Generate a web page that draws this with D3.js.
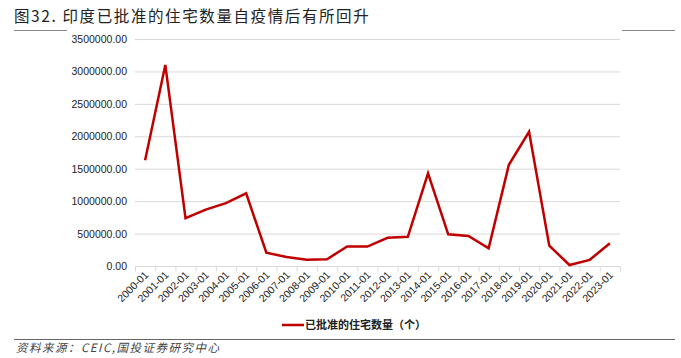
<!DOCTYPE html>
<html><head><meta charset="utf-8">
<script src="https://cdn.jsdelivr.net/npm/d3@7"></script>
<style>body{margin:0;background:#fff;}svg{display:block;}</style>
</head><body>
<script>
const categories = ["2000-01","2001-01","2002-01","2003-01","2004-01","2005-01","2006-01","2007-01","2008-01","2009-01","2010-01","2011-01","2012-01","2013-01","2014-01","2015-01","2016-01","2017-01","2018-01","2019-01","2020-01","2021-01","2022-01","2023-01"];
const approved = [1630000,3100000,736000,870000,970000,1120000,205000,140000,95000,105000,300000,300000,435000,450000,1430000,489000,463000,273000,1560000,2070000,313000,15000,95000,350000];
const yTicks = [0,500000,1000000,1500000,2000000,2500000,3000000,3500000];
const titleText = "图32. 印度已批准的住宅数量自疫情后有所回升";
const seriesName = "已批准的住宅数量（个）";
const sourceText = "资料来源：CEIC,国投证券研究中心";

const W = 681, H = 358;
const svg = d3.select("body").append("svg").attr("width", W).attr("height", H);
const font = "'Noto Sans CJK SC', 'Liberation Sans', sans-serif";

// title
svg.append("text").attr("x", 14).attr("y", 22).attr("font-family", font).attr("font-size", 15.5)
  .attr("letter-spacing", 1.6).attr("fill", "#222").text(titleText);
svg.append("line").attr("x1", 14).attr("x2", 67).attr("y1", 30.5).attr("y2", 30.5).attr("stroke", "#888").attr("stroke-width", 1.2);
svg.append("line").attr("x1", 622).attr("x2", 675).attr("y1", 30.5).attr("y2", 30.5).attr("stroke", "#888").attr("stroke-width", 1.2);

const x = d3.scaleBand().domain(categories).range([135, 620]);
const y = d3.scaleLinear().domain([0, 3500000]).range([266, 39]);

// grid
svg.append("g").selectAll("line").data(yTicks.filter(d => d > 0)).join("line")
  .attr("x1", 135).attr("x2", 620).attr("y1", d => y(d) + 0.5).attr("y2", d => y(d) + 0.5)
  .attr("stroke", "#d9d9d9").attr("stroke-width", 1);

// y labels
svg.append("g").selectAll("text").data(yTicks).join("text")
  .attr("x", 127).attr("y", d => y(d) + 4).attr("text-anchor", "end")
  .attr("font-family", "'Liberation Sans', Arial, sans-serif").attr("font-size", 10.5).attr("fill", "#222")
  .text(d => d3.format(".2f")(d));

// x axis
const xa = svg.append("g").attr("transform", `translate(0,${y(0) + 0.5})`);
xa.append("line").attr("x1", 135).attr("x2", 620).attr("stroke", "#d9d9d9");
const edges = categories.map(c => x(c)).concat([x.range()[1]]);
xa.selectAll("line.tk").data(edges).join("line").attr("class", "tk")
  .attr("x1", d => d + 0.5).attr("x2", d => d + 0.5).attr("y1", 0).attr("y2", 5).attr("stroke", "#d9d9d9");
xa.selectAll("text").data(categories).join("text")
  .attr("transform", c => `translate(${x(c) + x.bandwidth() / 2 + 4},${9}) rotate(-45)`)
  .attr("text-anchor", "end").attr("font-family", "'Liberation Sans', Arial, sans-serif").attr("font-size", 10.5).attr("fill", "#222")
  .text(c => c);

// line
const line = d3.line().x((d, i) => x(categories[i]) + x.bandwidth() / 2).y(d => y(d));
svg.append("path").datum(approved).attr("d", line).attr("fill", "none")
  .attr("stroke", "#c00000").attr("stroke-width", 2.5).attr("stroke-linejoin", "miter");

// legend
svg.append("line").attr("x1", 282).attr("x2", 304).attr("y1", 325).attr("y2", 325).attr("stroke", "#c00000").attr("stroke-width", 2.5);
svg.append("text").attr("x", 305).attr("y", 329).attr("font-family", font).attr("font-size", 11).attr("font-weight", "bold")
  .attr("fill", "#222").text(seriesName);

// footer
svg.append("line").attr("x1", 14).attr("x2", 675).attr("y1", 339.5).attr("y2", 339.5).attr("stroke", "#666").attr("stroke-width", 1.2);
svg.append("text").attr("x", 16).attr("y", 352).attr("font-family", font).attr("font-size", 11.5).attr("font-style", "italic")
  .attr("letter-spacing", 1.5).attr("fill", "#444").text(sourceText);
</script>
</body></html>
